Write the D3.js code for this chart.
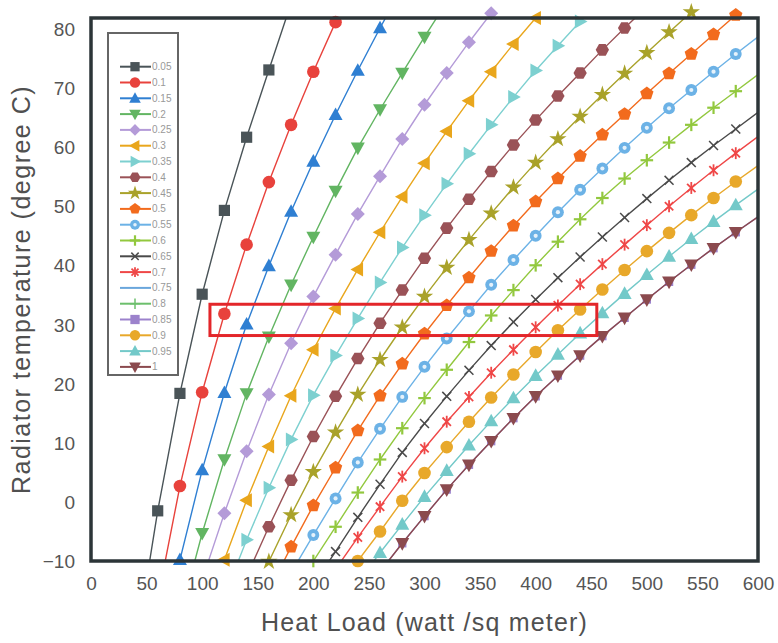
<!DOCTYPE html>
<html>
<head>
<meta charset="utf-8">
<script src="https://cdn.jsdelivr.net/npm/d3@7/dist/d3.min.js"></script>
<style>
body{margin:0;background:#fff;}
svg{display:block;font-family:"Liberation Sans",Arial,sans-serif;}
</style>
</head>
<body>
<script>
var _ = null;

//heat load (watt / sq meter) at which every series has a point
var heatLoad = [40,60,80,100,120,140,160,180,200,220,240,260,280,300,320,340,360,380,400,420,440,460,480,500,520,540,560,580,600,620];

//legend labels (emissivity)
var labels = ["0.05","0.1","0.15","0.2","0.25","0.3","0.35","0.4","0.45","0.5","0.55","0.6","0.65","0.7","0.75","0.8","0.85","0.9","0.95","1"];

//radiator temperature (degree C) per series, aligned with heatLoad
var t005 = [-25,-1.5,18.4,35.2,49.4,61.8,73.2,84.5,_,_,_,_,_,_,_,_,_,_,_,_,_,_,_,_,_,_,_,_,_,_];
var t010 = [_,-16.5,2.7,18.6,31.9,43.6,54.2,63.9,72.9,81.3,89,_,_,_,_,_,_,_,_,_,_,_,_,_,_,_,_,_,_,_];
var t015 = [_,-27,-9.8,5.4,18.5,30.1,40,49.2,57.7,65.6,73.1,80.3,87.2,_,_,_,_,_,_,_,_,_,_,_,_,_,_,_,_,_];
var t020 = [_,_,-19.5,-5.3,7.2,18.4,28,36.8,44.9,52.7,60,66.5,72.7,78.8,84.7,_,_,_,_,_,_,_,_,_,_,_,_,_,_,_];
var t025 = [_,_,_,-13.2,-1.9,8.6,18.2,26.9,34.8,41.9,48.8,55.2,61.5,67.3,72.7,77.9,82.8,87.5,_,_,_,_,_,_,_,_,_,_,_,_];
var t030 = [_,_,_,-21,-9.8,0.3,9.4,18,25.8,32.8,39.4,45.7,51.7,57.4,62.8,68,72.9,77.6,82,86.3,_,_,_,_,_,_,_,_,_,_];
var t035 = [_,_,_,_,-16,-6.4,2.4,10.6,18.1,24.8,31.1,37.2,43.1,48.6,53.9,59,63.9,68.6,73.1,77.3,81.4,85.3,_,_,_,_,_,_,_,_];
var t040 = [_,_,_,_,_,-12.6,-4.2,3.7,11.1,17.9,24.3,30.3,35.9,41.3,46.4,51.3,56,60.5,64.7,68.8,72.7,76.6,80.3,83.9,_,_,_,_,_,_];
var t045 = [_,_,_,_,_,-18.6,-10.1,-2.2,5.1,11.8,18.2,24.1,29.6,34.8,39.7,44.4,48.9,53.3,57.5,61.5,65.3,69,72.6,76.1,79.6,83,86.4,_,_,_];
var t050 = [_,_,_,_,_,_,-15,-7.6,-0.6,5.8,12.1,18,23.4,28.5,33.3,38,42.5,46.8,50.9,54.8,58.6,62.2,65.7,69.2,72.6,75.9,79.2,82.5,85.7,_];
var t055 = [_,_,_,_,_,_,_,-12,-5.6,0.6,6.7,12.4,17.8,22.9,27.7,32.3,36.8,41,45.1,49.1,52.9,56.5,60,63.4,66.7,69.8,72.9,75.9,78.8,81.6];
var t060 = [_,_,_,_,_,_,_,-16,-10,-4.2,1.6,7.2,12.5,17.6,22.4,27.1,31.6,35.9,40.1,44.1,47.9,51.5,54.8,57.9,60.9,63.9,66.8,69.6,72.4,75.1];
var t065 = [_,_,_,_,_,_,_,_,-14,-8.4,-2.6,3,8.4,13.3,17.9,22.3,26.5,30.5,34.3,38,41.5,44.9,48.2,51.4,54.5,57.5,60.4,63.2,66,68.7];
var t070 = [_,_,_,_,_,_,_,_,_,-11.4,-6,-0.8,4.3,9.1,13.6,17.8,21.9,25.8,29.6,33.3,36.9,40.3,43.6,46.9,50.1,53.2,56.2,59.1,61.9,64.6];
var t075 = [];
var t080 = [];
var t085 = [_,_,_,_,_,_,_,_,_,_,_,-11.8,-7,-2.4,2.1,6.3,10.3,14.2,17.9,21.4,24.8,28.1,31.2,34.3,37.3,40.2,43,45.7,48.3,50.8];
var t090 = [_,_,_,_,_,_,_,_,_,-15,-10,-5,0.2,4.9,9.3,13.6,17.7,21.6,25.4,29.1,32.6,36,39.3,42.5,45.6,48.6,51.5,54.3,57,59.6];
var t095 = [_,_,_,_,_,_,_,_,_,_,-13.6,-8.6,-3.8,0.9,5.3,9.6,13.7,17.6,21.4,25,28.6,32,35.3,38.5,41.6,44.6,47.5,50.3,53,55.6];
var t100 = [_,_,_,_,_,_,_,_,_,_,_,-11.8,-7,-2.4,2.1,6.3,10.3,14.2,17.9,21.4,24.8,28.1,31.2,34.3,37.3,40.2,43,45.7,48.3,50.8];

var temps = [t005,t010,t015,t020,t025,t030,t035,t040,t045,t050,t055,t060,t065,t070,t075,t080,t085,t090,t095,t100];

//tick labels
var xTicks = [0,50,100,150,200,250,300,350,400,450,500,550,600];
var yTicks = [-10,0,10,20,30,40,50,60,70,80];

//highlighted band (red box)
var boxLoad = [107,455];
var boxTemp = [28.2,33.5];

//series styles
var colors = ["#4a5458","#e8423c","#2f7fd2","#62b562","#b49bd8","#e9a61c","#7dd0d0","#9a5257","#a9a22a","#f26b1d",
              "#6cb2e6","#92c83e","#4a4a4a","#ef4747","#6aa6dc","#6cbf6c","#9c82cc","#e8a82a","#73c9c9","#8b4a4e"];
var shapes = ["square","circle","triUp","triDown","diamond","triLeft","triRight","hexagon","star","pentagon",
              "dotCircle","plus","cross","asterisk","none","thinPlus","square","circle","triUp","triDown"];

window.onload = setChart();

function setChart(){
    var width = 778,
        height = 643;

    var svg = d3.select("body")
        .append("svg")
        .attr("width", width)
        .attr("height", height);

    var x = d3.scaleLinear().domain([0, 600]).range([91, 758]);
    var y = d3.scaleLinear().domain([-10, 82]).range([561, 18]);

    svg.append("clipPath")
        .attr("id", "plotClip")
        .append("rect")
        .attr("x", x(0)).attr("y", y(82))
        .attr("width", x(600) - x(0))
        .attr("height", y(-10) - y(82));

    //axes, labels only
    var yAxis = svg.append("g")
        .attr("transform", "translate(" + x(0) + ",0)")
        .call(d3.axisLeft(y).tickValues(yTicks).tickSize(0).tickPadding(16));
    var xAxis = svg.append("g")
        .attr("transform", "translate(0," + y(-10) + ")")
        .call(d3.axisBottom(x).tickValues(xTicks).tickSize(0).tickPadding(16));
    [xAxis, yAxis].forEach(function(a){
        a.select(".domain").remove();
        a.selectAll("text")
            .style("font-family", "Liberation Sans, Arial, sans-serif")
            .style("font-size", "19px")
            .attr("fill", "#555");
    });

    svg.append("text")
        .attr("x", (x(0) + x(600)) / 2)
        .attr("y", 631)
        .attr("text-anchor", "middle")
        .style("font-size", "25px")
        .style("letter-spacing", "1.2px")
        .attr("fill", "#505050")
        .text("Heat Load (watt /sq meter)");

    svg.append("text")
        .attr("transform", "translate(30," + (y(-10) + y(82)) / 2 + ") rotate(-90)")
        .attr("text-anchor", "middle")
        .style("font-size", "25px")
        .style("letter-spacing", "1.5px")
        .attr("fill", "#505050")
        .text("Radiator temperature (degree C)");

    //series lines and markers
    var plot = svg.append("g");
    var line = d3.line()
        .defined(function(d){ return d.t !== null; })
        .x(function(d){ return x(d.q); })
        .y(function(d){ return y(d.t); });

    temps.forEach(function(vals, i){
        var pts = vals.map(function(t, j){ return {q: heatLoad[j], t: t}; });
        plot.append("path")
            .datum(pts)
            .attr("clip-path", "url(#plotClip)")
            .attr("fill", "none")
            .attr("stroke", colors[i])
            .attr("stroke-width", 1.4)
            .attr("d", line);

        //the 0.85 squares sit under the 1 triangles, only their edges show
        var r = labels[i] == "0.85" ? 5.2 : 7;
        pts.filter(function(d){
            return d.t !== null && d.q < 600 && d.t >= -10.5 && d.t <= 83.5;
        }).forEach(function(d){
            drawMarker(plot, shapes[i], colors[i], x(d.q), y(d.t), r);
        });
    });

    //frame
    svg.append("rect")
        .attr("x", x(0)).attr("y", y(82))
        .attr("width", x(600) - x(0))
        .attr("height", y(-10) - y(82))
        .attr("fill", "none")
        .attr("stroke", "#2c3538")
        .attr("stroke-width", 3.5);

    //red highlight box
    svg.append("rect")
        .attr("x", x(boxLoad[0])).attr("y", y(boxTemp[1]))
        .attr("width", x(boxLoad[1]) - x(boxLoad[0]))
        .attr("height", y(boxTemp[0]) - y(boxTemp[1]))
        .attr("fill", "none")
        .attr("stroke", "#e3262a")
        .attr("stroke-width", 3);

    //legend
    var lg = svg.append("g");
    svg.append("clipPath").attr("id", "legClip")
        .append("rect").attr("x", 108).attr("y", 33).attr("width", 70).attr("height", 342);
    lg.append("rect")
        .attr("x", 108).attr("y", 33)
        .attr("width", 70).attr("height", 342)
        .attr("fill", "#fff")
        .attr("stroke", "#666")
        .attr("stroke-width", 2);
    var items = lg.append("g").attr("clip-path", "url(#legClip)");
    labels.forEach(function(lab, i){
        var ly = 66.7 + i * 15.8;
        items.append("line")
            .attr("x1", 120).attr("x2", 151)
            .attr("y1", ly).attr("y2", ly)
            .attr("stroke", colors[i])
            .attr("stroke-width", 2);
        drawMarker(items, shapes[i], colors[i], 135, ly, 5.8);
        items.append("text")
            .attr("x", 152).attr("y", ly + 3.5)
            .style("font-size", "10px")
            .attr("fill", "#999")
            .text(lab);
    });
}

//draw one marker of the given shape centred on (cx, cy)
function drawMarker(g, shape, color, cx, cy, r){
    var m = g.append("g").attr("transform", "translate(" + cx + "," + cy + ")");
    function poly(pts){
        m.append("polygon")
            .attr("points", pts.map(function(p){ return p.join(","); }).join(" "))
            .attr("fill", color);
    }
    function ngon(n, rad, rot){
        var pts = [];
        for (var k = 0; k < n; k++){
            var a = rot + k * 2 * Math.PI / n;
            pts.push([rad * Math.cos(a), rad * Math.sin(a)]);
        }
        poly(pts);
    }
    function strokes(angles, len, w){
        angles.forEach(function(a){
            var dx = len * Math.cos(a), dy = len * Math.sin(a);
            m.append("line")
                .attr("x1", -dx).attr("y1", -dy).attr("x2", dx).attr("y2", dy)
                .attr("stroke", color).attr("stroke-width", w);
        });
    }
    if (shape == "square") poly([[-r*0.8,-r*0.8],[r*0.8,-r*0.8],[r*0.8,r*0.8],[-r*0.8,r*0.8]]);
    else if (shape == "circle") m.append("circle").attr("r", r*0.9).attr("fill", color);
    else if (shape == "dotCircle"){
        m.append("circle").attr("r", r*0.85).attr("fill", color);
        m.append("circle").attr("r", r*0.3).attr("fill", "#e6f2fb");
    }
    else if (shape == "triUp") poly([[0,-r*1.05],[r,r*0.75],[-r,r*0.75]]);
    else if (shape == "triDown") poly([[0,r*1.05],[r,-r*0.75],[-r,-r*0.75]]);
    else if (shape == "triLeft") poly([[-r*1.05,0],[r*0.75,-r],[r*0.75,r]]);
    else if (shape == "triRight") poly([[r*1.05,0],[-r*0.75,-r],[-r*0.75,r]]);
    else if (shape == "diamond") poly([[0,-r],[r,0],[0,r],[-r,0]]);
    else if (shape == "hexagon") ngon(6, r*0.95, 0);
    else if (shape == "pentagon") ngon(5, r, -Math.PI/2);
    else if (shape == "star"){
        m.append("path")
            .attr("d", d3.symbol().type(d3.symbolStar).size(r*r*1.9)())
            .attr("fill", color);
    }
    else if (shape == "plus") strokes([0, Math.PI/2], r*0.9, 2.2);
    else if (shape == "thinPlus") strokes([0, Math.PI/2], r*0.9, 1.5);
    else if (shape == "cross") strokes([Math.PI/4, -Math.PI/4], r*0.9, 1.5);
    else if (shape == "asterisk") strokes([Math.PI/4, -Math.PI/4, Math.PI/2], r*0.85, 1.8);
}
</script>
</body>
</html>
